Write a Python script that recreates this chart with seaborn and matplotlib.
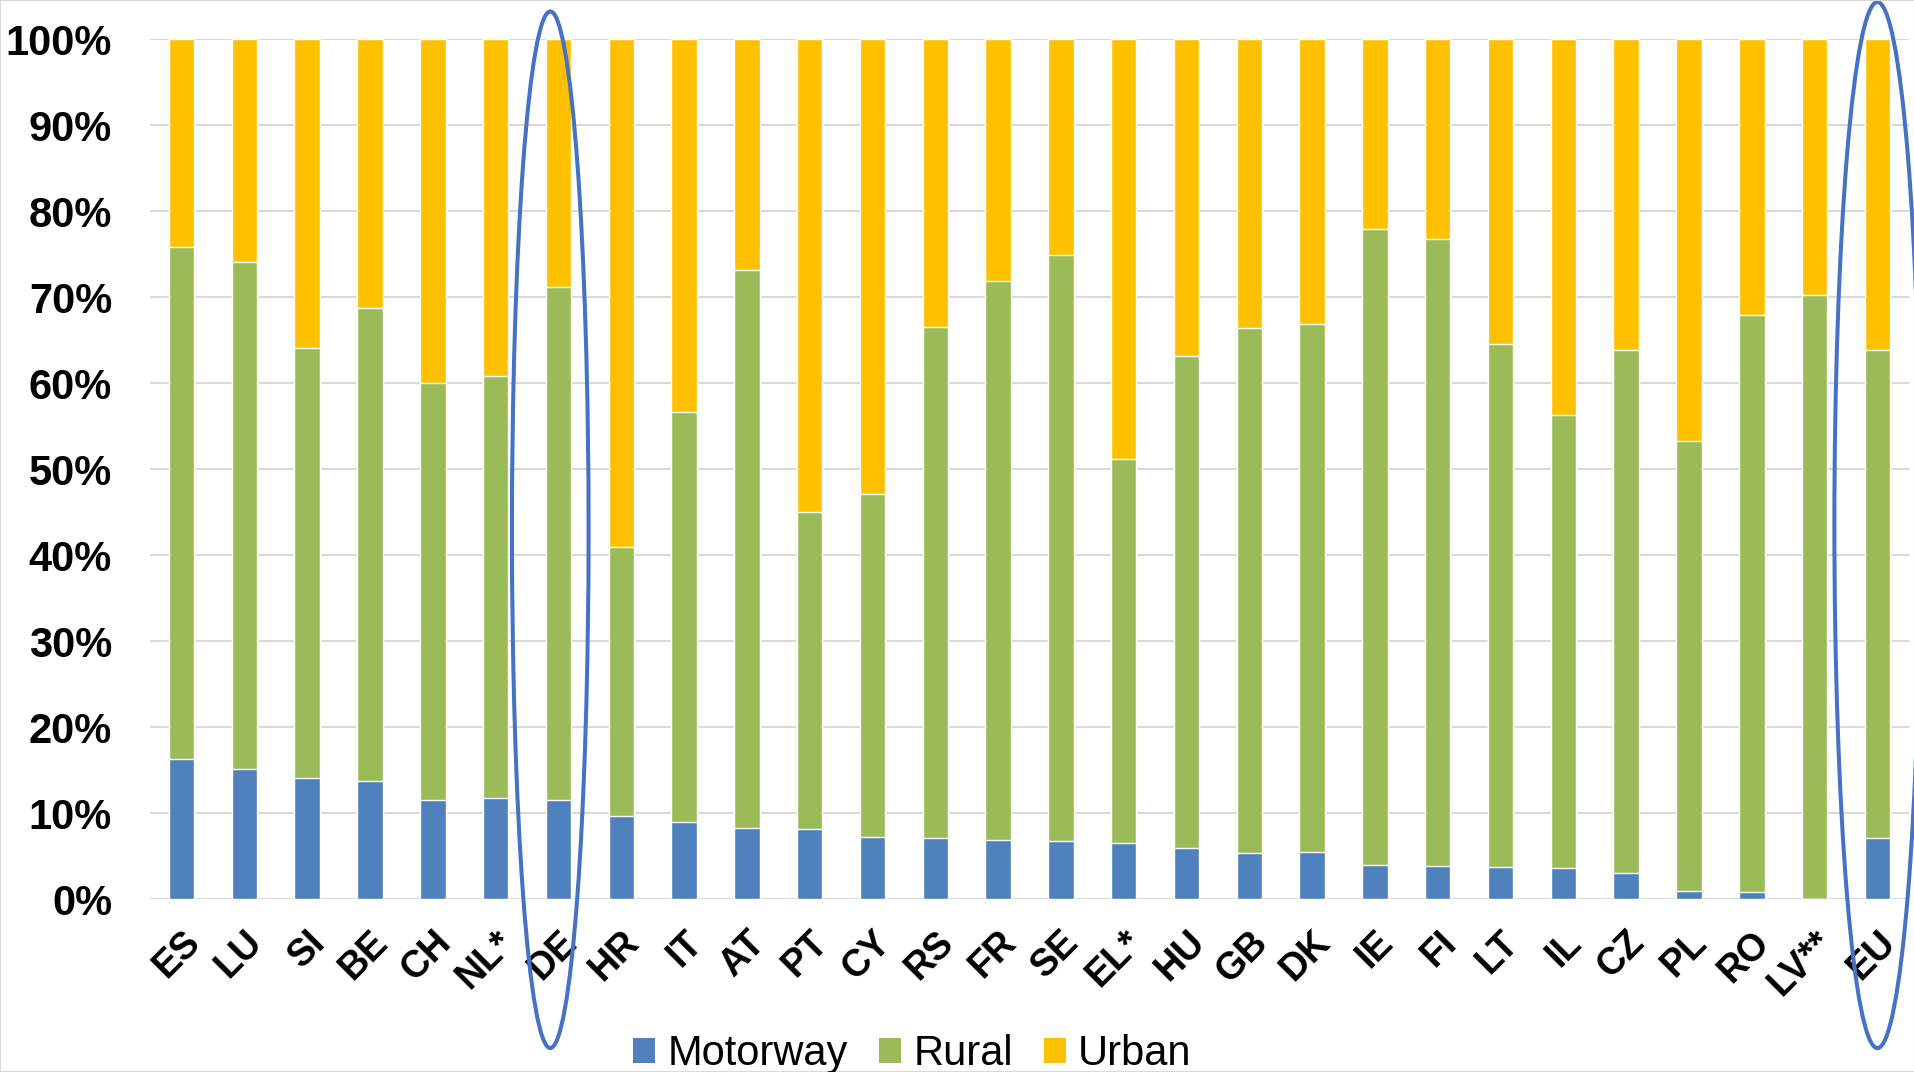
import numpy as np
import pandas as pd
import matplotlib
matplotlib.use("Agg")
import matplotlib.pyplot as plt
import seaborn as sns
from matplotlib.patches import Ellipse, Patch, Rectangle

# ---------------- data (shares in %) ----------------
countries = ["ES", "LU", "SI", "BE", "CH", "NL*", "DE", "HR", "IT", "AT", "PT", "CY",
             "RS", "FR", "SE", "EL*", "HU", "GB", "DK", "IE", "FI", "LT", "IL", "CZ",
             "PL", "RO", "LV**", "EU"]
motorway = [16.3, 15.2, 14.1, 13.8, 11.6, 11.8, 11.6, 9.7, 9.0, 8.3, 8.2, 7.2,
            7.1, 6.9, 6.8, 6.6, 6.0, 5.4, 5.5, 4.0, 3.9, 3.8, 3.6, 3.1,
            1.0, 0.9, 0.0, 7.1]
rural = [59.5, 58.9, 50.0, 54.9, 48.4, 49.0, 59.6, 31.3, 47.6, 64.9, 36.8, 39.9,
         59.4, 65.0, 68.1, 44.6, 57.1, 61.0, 61.4, 73.9, 72.9, 60.7, 52.7, 60.7,
         52.3, 67.0, 70.3, 56.7]
urban = [24.2, 25.9, 35.9, 31.3, 40.0, 39.2, 28.8, 59.0, 43.4, 26.8, 55.0, 52.9,
         33.5, 28.1, 25.1, 48.8, 36.9, 33.6, 33.1, 22.1, 23.2, 35.5, 43.7, 36.2,
         46.7, 32.1, 29.7, 36.2]
series_names = ["Motorway", "Rural", "Urban"]
y_ticks = list(range(0, 101, 10))
y_tick_labels = [f"{v}%" for v in y_ticks]
highlighted = ["DE", "EU"]

colors = {"Motorway": "#4F81BD", "Rural": "#9BBB59", "Urban": "#FFC000"}

# ---------------- style ----------------
sns.set_style("white")
plt.rcParams["font.family"] = ["Liberation Sans", "DejaVu Sans"]
plt.rcParams["text.color"] = "black"
plt.rcParams["xtick.color"] = "black"
plt.rcParams["ytick.color"] = "black"
plt.rcParams["xtick.labelcolor"] = "black"
plt.rcParams["ytick.labelcolor"] = "black"

df = pd.DataFrame({"country": countries, "Motorway": motorway,
                   "Rural": rural, "Urban": urban})
df["cum_rural"] = df["Motorway"] + df["Rural"]
df["cum_urban"] = df["cum_rural"] + df["Urban"]

fig = plt.figure(figsize=(19.15, 10.72), dpi=100)
fig.patch.set_facecolor("white")
ax = fig.add_axes([0.0781, 0.1611, 0.919, 0.8025])

bar_w = 0.405
for col, key in [("cum_urban", "Urban"), ("cum_rural", "Rural"), ("Motorway", "Motorway")]:
    sns.barplot(data=df, x="country", y=col, order=countries, color=colors[key],
                saturation=1, width=bar_w, errorbar=None, ax=ax, zorder=3)

ax.set_ylim(0, 100)
ax.set_xlim(-0.51, len(countries) - 1 + 0.51)
ax.set_yticks(y_ticks)
ax.set_yticklabels(y_tick_labels, fontsize=30, fontweight="bold", color="black")
ax.set_xticks(range(len(countries)))
ax.set_xticklabels(countries, rotation=45, ha="right", va="top",
                   rotation_mode="anchor", fontsize=27, fontweight="bold", color="black")
ax.tick_params(axis="y", length=0, pad=27)
ax.tick_params(axis="x", length=0, pad=18)
ax.set_xlabel("")
ax.set_ylabel("")
ax.yaxis.grid(True, color="#D9D9D9", linewidth=1.5)
ax.xaxis.grid(False)
ax.set_axisbelow(True)
for s in ax.spines.values():
    s.set_visible(False)

# ---------------- highlight ellipses ----------------
ell_specs = {"DE": (-0.13, 42.96, 1.22, 120.5), "EU": (0.0, 43.5, 1.37, 121.6)}
for c in highlighted:
    dx, cy, w, h = ell_specs[c]
    e = Ellipse((countries.index(c) + dx, cy), width=w, height=h, fill=False,
                edgecolor="#4472C4", linewidth=2.9, clip_on=False, zorder=6)
    ax.add_patch(e)

# ---------------- legend ----------------
handles = [Patch(facecolor=colors[k], edgecolor="none", label=k) for k in series_names]
leg = fig.legend(handles=handles, loc="center", bbox_to_anchor=(0.4765, 0.0165), ncol=3,
                 frameon=False, fontsize=30, handlelength=0.52, handleheight=0.52,
                 handletextpad=0.3, columnspacing=0.75, borderpad=0, borderaxespad=0)
for t in leg.get_texts():
    t.set_color("black")

# thin frame around the chart area
fig.patches.append(Rectangle((0, 0), 1, 1, transform=fig.transFigure, fill=False,
                             edgecolor="#D9D9D9", linewidth=1.5))

fig.savefig("out.png", dpi=100)
